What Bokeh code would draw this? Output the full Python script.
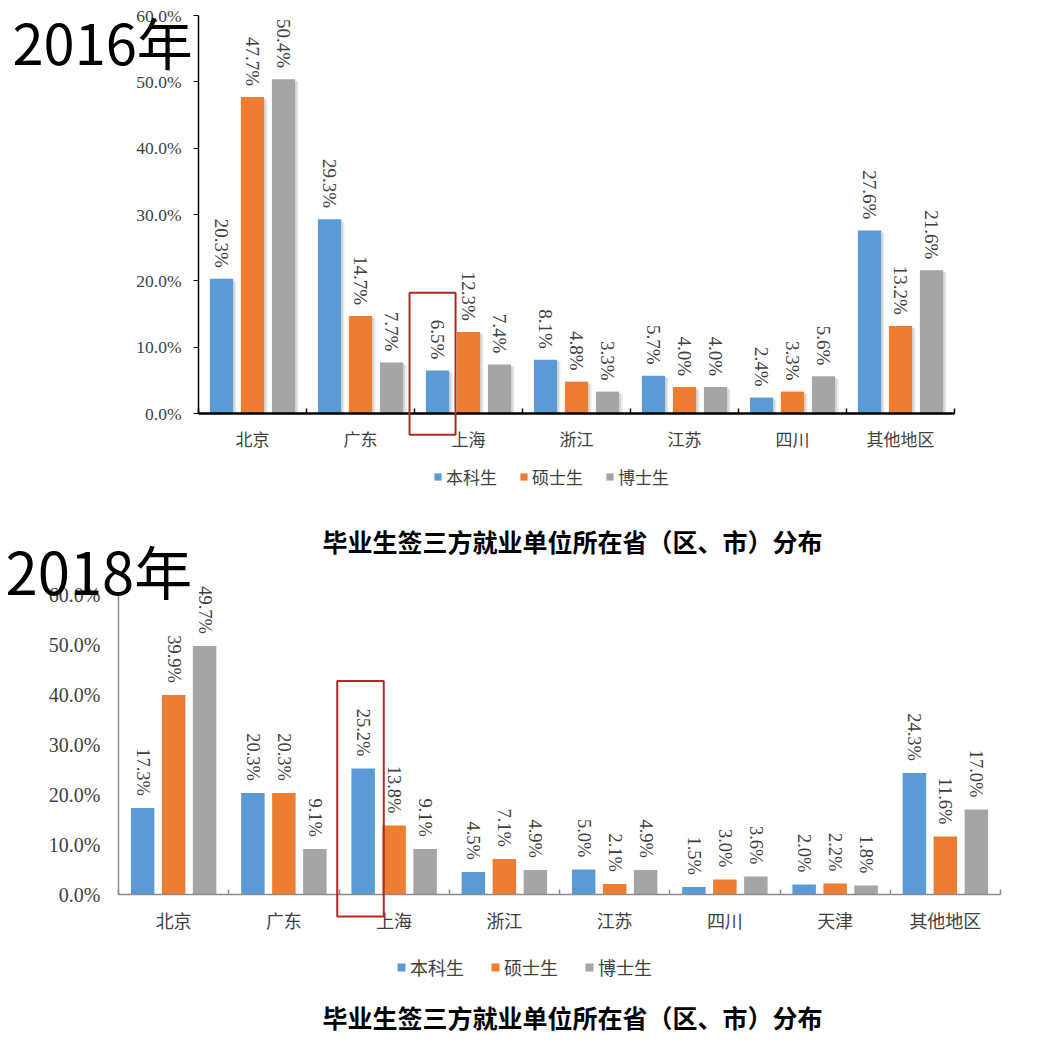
import math
from bokeh.plotting import figure
from bokeh.models import (Range1d, FixedTicker, PrintfTickFormatter, Label, Legend,
                          LegendItem, BoxAnnotation, ColumnDataSource, LinearAxis)
from bokeh.embed import file_html
from bokeh.resources import INLINE
from bokeh.core.properties import value

# ---------------- data ----------------
series = ["本科生", "硕士生", "博士生"]
colors = ["#5B9BD5", "#ED7D31", "#A5A5A5"]

cats_2016 = ["北京", "广东", "上海", "浙江", "江苏", "四川", "其他地区"]
bachelor_2016 = [20.3, 29.3, 6.5, 8.1, 5.7, 2.4, 27.6]
master_2016 = [47.7, 14.7, 12.3, 4.8, 4.0, 3.3, 13.2]
doctor_2016 = [50.4, 7.7, 7.4, 3.3, 4.0, 5.6, 21.6]

cats_2018 = ["北京", "广东", "上海", "浙江", "江苏", "四川", "天津", "其他地区"]
bachelor_2018 = [17.3, 20.3, 25.2, 4.5, 5.0, 1.5, 2.0, 24.3]
master_2018 = [39.9, 20.3, 13.8, 7.1, 2.1, 3.0, 2.2, 11.6]
doctor_2018 = [49.7, 9.1, 9.1, 4.9, 4.9, 3.6, 1.8, 17.0]

y_ticks = [0, 10, 20, 30, 40, 50, 60]
chart_title = "毕业生签三方就业单位所在省（区、市）分布"
year_2016 = "2016年"
year_2018 = "2018年"
highlight_cat = "上海"

W, H = 1052, 1049
SERIF = "Liberation Serif"
CJK = "Noto Sans CJK SC"

# ---------------- layout geometry (canvas pixels) ----------------
# top chart: plot area x 198..954, y(0%)=413, y(60%)=15
T_LEFT, T_RIGHT, T_ZERO, T_TOP = 198, 954, 413, 15
# bottom chart: plot area x 118..1000, y(0%)=894, y(60%)=594
B_LEFT, B_RIGHT, B_ZERO, B_TOP = 118, 1000, 894, 594


def ranges(n, left, right, zero, top):
    ux = (right - left) / n
    ppu = (zero - top) / 60.0
    xr = Range1d(-0.5 - left / ux, n - 0.5 + (W - right) / ux)
    yr = Range1d(-(H - zero) / ppu, zero / ppu)
    return xr, yr, ppu


xr1, yr1, ppu1 = ranges(len(cats_2016), T_LEFT, T_RIGHT, T_ZERO, T_TOP)
xr2, yr2, ppu2 = ranges(len(cats_2018), B_LEFT, B_RIGHT, B_ZERO, B_TOP)

p = figure(width=W, height=H, output_backend="svg", toolbar_location=None,
           title=None, x_range=xr1, y_range=yr1,
           min_border_left=0, min_border_right=0, min_border_top=0,
           min_border_bottom=0, background_fill_color="white",
           border_fill_color="white")
p.min_border = 0
p.outline_line_color = None
p.extra_x_ranges = {"b": xr2}
p.extra_y_ranges = {"b": yr2}


def draw_chart(cats, vals, rx, ry, ppu, xaxis, yaxis, axis_color, xaxis_w,
               ytick_out, ylab_standoff, tick_font, val_font, cat_font, offset,
               bar_w, shadow, label_gap_px):
    n = len(cats)
    idx = list(range(n))
    rn = dict(x_range_name=rx, y_range_name=ry)
    renderers = []
    gap = label_gap_px / ppu
    for k, (c, v) in enumerate(zip(colors, vals)):
        xs = [i + (k - 1) * offset for i in idx]
        src = ColumnDataSource(dict(x=xs, top=v,
                                    lab=[f"{t:.1f}%" for t in v],
                                    ly=[t + gap for t in v]))
        if shadow:
            p.vbar(x=[x + 0.03 for x in xs], top=[t - 0.35 for t in v], width=bar_w,
                   fill_color="black", fill_alpha=0.09, line_color=None, **rn)
            p.vbar(x=[x + 0.018 for x in xs], top=[t - 0.2 for t in v], width=bar_w,
                   fill_color="black", fill_alpha=0.07, line_color=None, **rn)
        r = p.vbar(x="x", top="top", width=bar_w, source=src, fill_color=c,
                   line_color=None, **rn)
        renderers.append(r)
        p.text(x="x", y="ly", text="lab", source=src, angle=-math.pi / 2,
               text_align="right", text_baseline="middle",
               text_font=value(SERIF), text_font_size=val_font,
               text_color="#404040", **rn)

    # x axis: category names at centres, tick marks at category boundaries
    xaxis.fixed_location = 0
    xaxis.bounds = (-0.5, n - 0.5)
    xaxis.ticker = FixedTicker(ticks=idx, minor_ticks=[i - 0.5 for i in range(n + 1)])
    xaxis.major_label_overrides = {i: c for i, c in enumerate(cats)}
    xaxis.major_tick_line_color = None
    xaxis.major_tick_out = 0
    xaxis.major_tick_in = 0
    xaxis.minor_tick_in = 5
    xaxis.minor_tick_out = 0
    xaxis.minor_tick_line_color = axis_color
    xaxis.minor_tick_line_width = 1.5
    xaxis.axis_line_color = axis_color
    xaxis.axis_line_width = xaxis_w
    xaxis.major_label_text_font = CJK
    xaxis.major_label_text_font_size = cat_font
    xaxis.major_label_text_color = "#404040"
    xaxis.major_label_standoff = 12

    yaxis.fixed_location = -0.5
    yaxis.bounds = (0, 60)
    yaxis.ticker = FixedTicker(ticks=y_ticks)
    yaxis.formatter = PrintfTickFormatter(format="%.1f%%")
    yaxis.axis_line_color = axis_color
    yaxis.axis_line_width = 1.5
    yaxis.minor_tick_line_color = None
    yaxis.major_tick_in = 0
    if ytick_out:
        yaxis.major_tick_out = ytick_out
        yaxis.major_tick_line_color = axis_color
    else:
        yaxis.major_tick_out = 0
        yaxis.major_tick_line_color = None
    yaxis.major_label_standoff = ylab_standoff
    yaxis.major_label_text_font = SERIF
    yaxis.major_label_text_font_size = tick_font
    yaxis.major_label_text_color = "#404040"
    return renderers


def add_legend(renderers, x, y, font, glyph, spacing):
    items = [LegendItem(label=s, renderers=[r]) for s, r in zip(series, renderers)]
    lg = Legend(items=items, orientation="horizontal", location=(x, y),
                label_text_font=CJK, label_text_font_size=font,
                label_text_color="#404040", glyph_width=glyph, glyph_height=glyph,
                label_standoff=4, spacing=spacing, padding=0, margin=0,
                border_line_color=None, background_fill_alpha=0)
    p.add_layout(lg, "center")


def add_text(text, x, y, size, bold=False, align="left", baseline="alphabetic"):
    p.add_layout(Label(x=x, y=H - y, x_units="screen", y_units="screen",
                       text=text, text_font=CJK, text_font_size=size,
                       text_font_style="bold" if bold else "normal",
                       text_color="black", text_align=align,
                       text_baseline=baseline))


# ---------------- 2016 chart ----------------
x1 = p.xaxis[0]
y1 = p.yaxis[0]
r1 = draw_chart(cats_2016, [bachelor_2016, master_2016, doctor_2016], "default",
                "default", ppu1, x1, y1, "black", 2.5, 5, 12, "17.5px", "19px",
                "17px", 0.287, 0.215, True, 11)
add_legend(r1, 433, H - 489, "17px", 9, 22)
hi = cats_2016.index(highlight_cat)
blue_x1 = hi - 0.287
p.add_layout(BoxAnnotation(left=blue_x1 - 0.259, right=blue_x1 + 0.167,
                           top=18.2, bottom=-3.2, fill_alpha=0, line_alpha=1,
                           line_color="#B02A26", line_width=2))
add_text(year_2016, 12, 40, "56px")
add_text(chart_title, 572, 540, "25px", bold=True, align="center", baseline="middle")

# ---------------- 2018 chart ----------------
x2 = LinearAxis(x_range_name="b", y_range_name="b")
y2 = LinearAxis(x_range_name="b", y_range_name="b")
p.add_layout(x2, "below")
p.add_layout(y2, "left")
r2 = draw_chart(cats_2018, [bachelor_2018, master_2018, doctor_2018], "b", "b",
                ppu2, x2, y2, "#8C8C8C", 1.5, 0, 18, "20px", "18.5px", "18px",
                0.281, 0.213, False, 12)
add_legend(r2, 396, H - 980, "18px", 10, 26)
hi2 = cats_2018.index(highlight_cat)
blue_x2 = hi2 - 0.281
p.add_layout(BoxAnnotation(left=blue_x2 - 0.235, right=blue_x2 + 0.187,
                           top=42.7, bottom=-4.4, fill_alpha=0, line_alpha=1,
                           line_color="#B02A26", line_width=2,
                           x_range_name="b", y_range_name="b"))
add_text(year_2018, 5, 569, "58px")
add_text(chart_title, 572, 1016, "25px", bold=True, align="center", baseline="middle")

p.grid.visible = False

open("out.html", "w").write(file_html(p, INLINE))
